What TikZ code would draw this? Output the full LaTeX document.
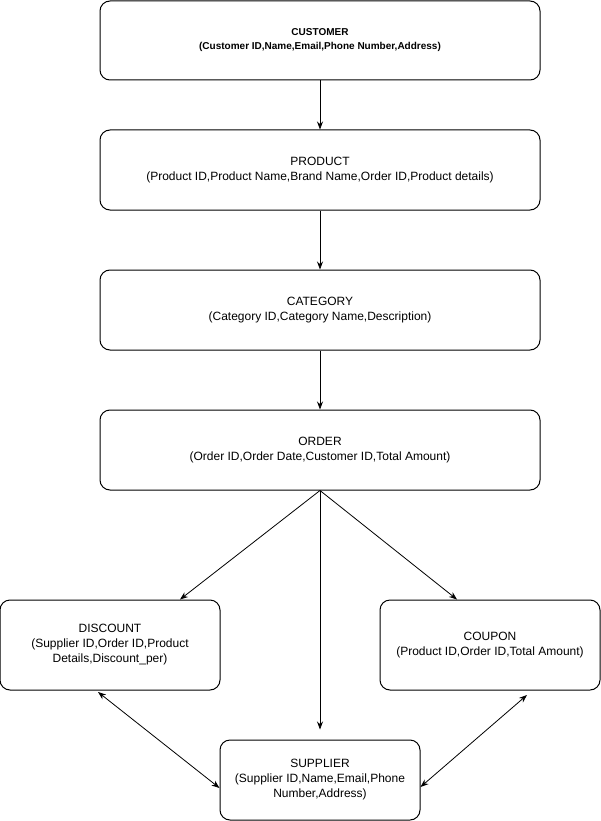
\documentclass[tikz,border=0pt]{standalone}
\usepackage{fontspec}
\setmainfont{Liberation Sans}
\usepackage{tikz}
\usetikzlibrary{arrows.meta, positioning}

\tikzset{
  entity/.style={draw, line width=1pt, rounded corners=10pt, align=center,
                 font=\fontsize{12}{15}\selectfont, inner sep=0pt},
  wide/.style={entity, minimum width=440pt, minimum height=80pt},
  small/.style={entity, minimum width=220pt, minimum height=90pt},
  link/.style={line width=0.8pt, -{Stealth[length=8pt, width=6pt]}},
  twoway/.style={line width=0.8pt, {Stealth[length=8pt, width=6pt]}-{Stealth[length=8pt, width=6pt]}}
}

\begin{document}
\begin{tikzpicture}[x=1pt, y=-1pt]
\useasboundingbox (0,0) rectangle (601,821);

% main chain
\node [wide, minimum height=79pt, font=\fontsize{10}{14}\selectfont\bfseries] (customer) at (320,40.5)
  {CUSTOMER\\(Customer ID,Name,Email,Phone Number,Address)};
\node [wide] (product) at (320,170)
  {PRODUCT\\(Product ID,Product Name,Brand Name,Order ID,Product details)};
\node [wide] (category) at (320,310)
  {CATEGORY\\(Category ID,Category Name,Description)};
\node [wide] (order) at (320,450)
  {ORDER\\(Order ID,Order Date,Customer ID,Total Amount)};

% lower row
\node [small] (discount) at (110,645)
  {DISCOUNT\\(Supplier ID,Order ID,Product\\Details,Discount\_per)};
\node [small] (coupon) at (490,645)
  {COUPON\\(Product ID,Order ID,Total Amount)};
\node [entity, minimum width=200pt, minimum height=80pt] (supplier) at (320,780)
  {SUPPLIER\\(Supplier ID,Name,Email,Phone\\Number,Address)};

\draw [link] (customer) -- (product);
\draw [link] (product) -- (category);
\draw [link] (category) -- (order);
\draw [link] (order.south) -- (discount.north -| 180,0);
\draw [link] (order.south) -- (coupon.north -| 457,0);
\draw [link, shorten >=10pt] (order.south) -- (supplier.north);

\coordinate (dsc) at (98,692);
\coordinate (cpn) at (527,695);
\draw [twoway] (dsc) -- (supplier.west |- 0,788);
\draw [twoway] (cpn) -- (supplier.east |- 0,787);
\end{tikzpicture}
\end{document}
